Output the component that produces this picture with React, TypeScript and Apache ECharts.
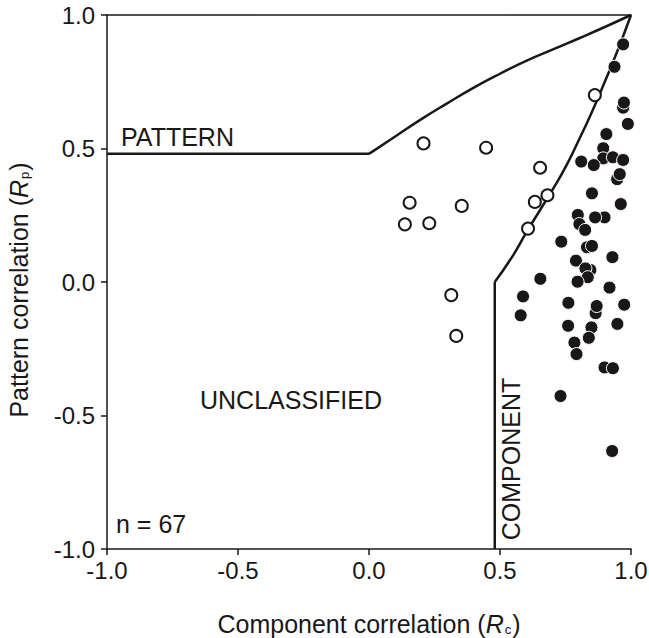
import React, { useEffect, useRef } from "react";
import * as echarts from "echarts";

// Open circles: [Rc, Rp]
const openPoints: number[][] = [
  [0.208, 0.519], [0.447, 0.503], [0.653, 0.428], [0.155, 0.297], [0.354, 0.285],
  [0.137, 0.216], [0.23, 0.22], [0.633, 0.3], [0.681, 0.325], [0.607, 0.2],
  [0.862, 0.7], [0.314, -0.049], [0.333, -0.202],
];

// Filled circles: [Rc, Rp]
const filledPoints: number[][] = [
  [0.97, 0.89], [0.937, 0.806], [0.97, 0.653], [0.973, 0.672], [0.988, 0.592],
  [0.906, 0.554], [0.894, 0.501], [0.894, 0.463], [0.931, 0.467], [0.97, 0.457],
  [0.81, 0.451], [0.858, 0.438], [0.947, 0.385], [0.957, 0.404], [0.851, 0.332],
  [0.961, 0.292], [0.797, 0.251], [0.899, 0.242], [0.863, 0.242], [0.803, 0.217],
  [0.825, 0.195], [0.734, 0.151], [0.832, 0.13], [0.851, 0.135], [0.929, 0.093],
  [0.79, 0.08], [0.845, 0.045], [0.826, 0.051], [0.835, 0.018], [0.796, 0.001],
  [0.654, 0.012], [0.918, -0.021], [0.588, -0.054], [0.579, -0.125], [0.761, -0.078],
  [0.865, -0.117], [0.869, -0.09], [0.974, -0.085], [0.76, -0.164], [0.849, -0.17],
  [0.948, -0.157], [0.839, -0.209], [0.784, -0.227], [0.792, -0.27], [0.899, -0.32],
  [0.931, -0.323], [0.731, -0.427], [0.928, -0.633],
];

// Classification boundaries (straight parts and curved parts)
const patternStraight: number[][] = [[-1, 0.48], [0, 0.48]];
const patternCurve: number[][] = [
  [0, 0.48], [0.1, 0.545], [0.2, 0.61], [0.3, 0.67], [0.4, 0.728],
  [0.5, 0.78], [0.6, 0.828], [0.7, 0.87], [0.8, 0.912], [0.9, 0.955], [1, 1],
];
const componentStraight: number[][] = [[0.48, -1], [0.48, 0]];
const componentCurve: number[][] = [
  [0.48, 0], [0.55, 0.1], [0.6, 0.185], [0.65, 0.265], [0.7, 0.345],
  [0.75, 0.43], [0.8, 0.53], [0.85, 0.635], [0.9, 0.75], [0.95, 0.87], [1, 1],
];

const INK = "#1a1718";
const FONT = "Liberation Sans";

export default function App() {
  const ref = useRef<HTMLDivElement>(null);
  useEffect(() => {
    if (!ref.current) return;
    const chart = echarts.init(ref.current, undefined, { renderer: "svg" });
    const rich = {
      n: { fontSize: 25, fontFamily: FONT, color: INK },
      i: { fontSize: 25, fontFamily: FONT, color: INK, fontStyle: "italic" },
      s: { fontSize: 13, fontFamily: FONT, color: INK, verticalAlign: "bottom", padding: [8, 1, 0, 1] },
    };
    const axisCommon = {
      type: "value",
      min: -1,
      max: 1,
      interval: 0.5,
      axisLine: { show: true, onZero: false, lineStyle: { color: INK, width: 1.5 } },
      axisTick: { show: true, inside: false, length: 6, lineStyle: { color: INK, width: 1.5 } },
      splitLine: { show: false },
      axisLabel: {
        fontSize: 24,
        fontFamily: FONT,
        color: INK,
        formatter: (v: number) => v.toFixed(1),
      },
    };
    const boundaryLine = (data: number[][], smooth: boolean) => ({
      type: "line",
      data,
      symbol: "none",
      smooth,
      lineStyle: { color: INK, width: 2.5 },
      z: 2,
    });
    chart.setOption({
      animation: false,
      grid: { left: 107, right: 18, top: 15, bottom: 89, containLabel: false, outerBoundsMode: "none" },
      xAxis: [
        {
          ...axisCommon,
          axisLabel: { ...axisCommon.axisLabel, margin: 9 },
          name: "{n|Component correlation (}{i|R}{s|c}{n|)}",
          nameLocation: "middle",
          nameGap: 62,
          nameTextStyle: { rich },
        },
        {
          type: "value",
          min: -1,
          max: 1,
          position: "top",
          axisLine: { show: true, onZero: false, lineStyle: { color: INK, width: 1.5 } },
          axisTick: { show: false },
          axisLabel: { show: false },
          splitLine: { show: false },
        },
      ],
      yAxis: {
        ...axisCommon,
        axisLabel: { ...axisCommon.axisLabel, margin: 12 },
        name: "{n|Pattern correlation (}{i|R}{s|p}{n|)}",
        nameLocation: "middle",
        nameGap: 76,
        nameTextStyle: { rich, padding: [0, 16, 0, 0] },
      },
      series: [
        boundaryLine(patternStraight, false),
        boundaryLine(patternCurve, true),
        boundaryLine(componentStraight, false),
        boundaryLine(componentCurve, true),
        {
          type: "scatter",
          data: openPoints,
          symbol: "circle",
          symbolSize: 12,
          itemStyle: { color: "#ffffff", borderColor: INK, borderWidth: 2, opacity: 1 },
          z: 3,
        },
        {
          type: "scatter",
          data: filledPoints,
          symbol: "circle",
          symbolSize: 13,
          itemStyle: { color: INK, borderColor: "#ffffff", borderWidth: 1, opacity: 1 },
          z: 4,
        },
      ],
      graphic: [
        {
          type: "text",
          left: 121,
          top: 124,
          style: { text: "PATTERN", fontSize: 25, fontFamily: FONT, fill: INK },
        },
        {
          type: "text",
          left: 200,
          top: 387,
          style: { text: "UNCLASSIFIED", fontSize: 25, fontFamily: FONT, fill: INK },
        },
        {
          type: "text",
          left: 116,
          top: 511,
          style: { text: "n = 67", fontSize: 25, fontFamily: FONT, fill: INK },
        },
        {
          type: "text",
          x: 511,
          y: 459,
          rotation: Math.PI / 2,
          style: {
            text: "COMPONENT",
            fontSize: 25,
            fontFamily: FONT,
            fill: INK,
            align: "center",
            verticalAlign: "middle",
          },
        },
      ],
    });
    return () => chart.dispose();
  }, []);
  return (
    <div
      ref={ref}
      style={{ position: "absolute", left: 0, top: 0, width: 649, height: 638, background: "#fff" }}
    />
  );
}
